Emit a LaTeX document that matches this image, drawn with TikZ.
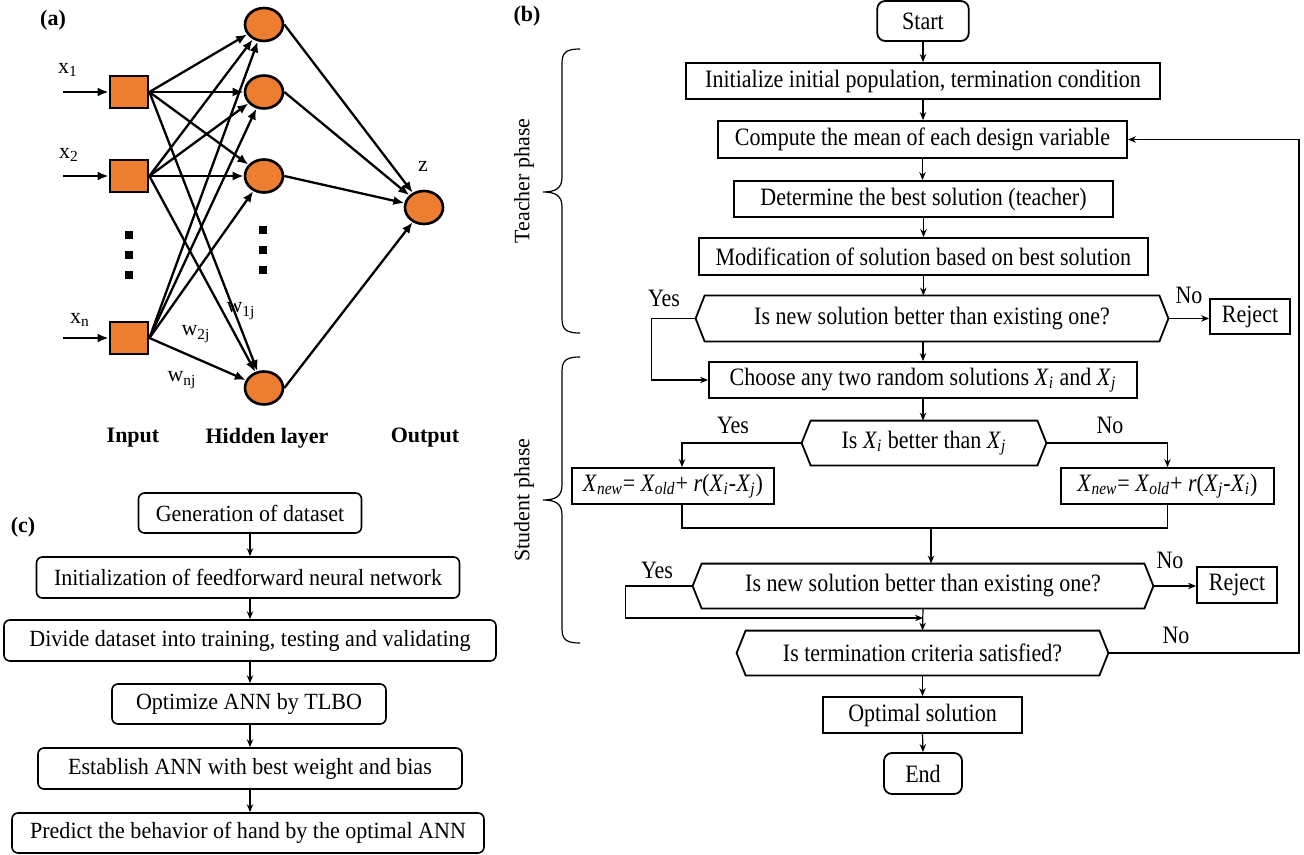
\documentclass[tikz,border=0pt]{standalone}
\usepackage{fontspec}
\setmainfont{Liberation Serif}
\newfontfamily\bcondfont[FakeStretch=0.88]{Liberation Serif}
\newfontfamily\ccondfont[FakeStretch=0.95]{Liberation Serif}
\usetikzlibrary{arrows.meta,shapes.geometric,calc}
\definecolor{nnorange}{HTML}{ED7D31}
\newcommand{\hexdraw}[1]{\draw[line width=0.9pt] ([xshift=4.5pt]#1.north west) -- ([xshift=-4.5pt]#1.north east) -- (#1.east) -- ([xshift=-4.5pt]#1.south east) -- ([xshift=4.5pt]#1.south west) -- (#1.west) -- cycle;}
\begin{document}
\begin{tikzpicture}[x=0.5pt,y=-0.5pt,
  every node/.style={font=\fontsize{11}{13}\selectfont, inner sep=0pt},
  sq/.style={draw, line width=1.4pt, fill=nnorange, minimum width=19pt, minimum height=16pt},
  neur/.style={ellipse, draw, line width=1.3pt, fill=nnorange, minimum width=19pt, minimum height=16.5pt},
  dotsq/.style={fill=black, minimum size=4pt},
  nnarrow/.style={line width=1.15pt, -{Latex[length=5.5pt,width=4.5pt]}},
  bbox/.style={draw, line width=0.9pt},
  rbox/.style={draw, line width=0.9pt, rounded corners=4pt},
  btext/.style={font=\bcondfont\fontsize{12.5}{14}\selectfont},
  cbox/.style={draw, line width=0.8pt, rounded corners=3pt, font=\ccondfont\fontsize{11.6}{13}\selectfont},
  flow/.style={line width=0.6pt, -{Stealth[length=4pt,width=3.2pt]}},
  plain/.style={line width=0.6pt},
  bold/.style={font=\fontsize{11}{13}\selectfont\bfseries},
]
\useasboundingbox (0,0) rectangle (1304,855);

% ---------------- Panel (a) ----------------
\node[bold] (la) at (53,20) {(a)};
\node[sq] (i1) at (129,92) {};
\node[sq] (i2) at (129,176) {};
\node[sq] (in) at (129,338) {};
\node[neur] (h1) at (264,24.5) {};
\node[neur] (h2) at (264,92) {};
\node[neur] (h3) at (264,176) {};
\node[neur] (h4) at (264,388) {};
\node[neur] (o) at (424,207.5) {};
\coordinate (s1) at (63,92);
\coordinate (s2) at (63,176);
\coordinate (sn) at (63,338);
\draw[nnarrow] (s1) -- (i1);
\draw[nnarrow] (s2) -- (i2);
\draw[nnarrow] (sn) -- (in);
\foreach \i in {i1,i2,in}{
  \foreach \h in {h1,h2,h3,h4}{
    \draw[nnarrow] (\i.east) -- (\h);
  }
}
\foreach \h in {h1,h2,h3,h4}{
  \draw[nnarrow] (\h.east) -- (o);
}
\node[dotsq] (da1) at (129,235) {};
\node[dotsq] (da2) at (129,255) {};
\node[dotsq] (da3) at (129,275) {};
\node[dotsq] (db1) at (263,230) {};
\node[dotsq] (db2) at (263,250) {};
\node[dotsq] (db3) at (263,270) {};
\node (lx1) at (68,70) {x\textsubscript{1}};
\node (lx2) at (69,155) {x\textsubscript{2}};
\node (lxn) at (80,320) {x\textsubscript{n}};
\node (lz) at (423,166) {z};
\node (lw1) at (241,311) {w\textsubscript{1j}};
\node (lw2) at (196,334) {w\textsubscript{2j}};
\node (lwn) at (182,380) {w\textsubscript{nj}};
\node[bold] (tin) at (133,438) {Input};
\node[bold] (thl) at (267,438) {Hidden layer};
\node[bold] (tout) at (425,438) {Output};

% ---------------- Panel (b) ----------------
\node[bold] (lb) at (527,16) {(b)};
\begin{scope}[every node/.append style={btext}]
\node[rbox, minimum width=45.75pt, minimum height=20pt] (start) at (923,21) {Start};
\node[bbox, minimum width=236.7pt, minimum height=18pt] (init) at (923,81) {Initialize initial population, termination condition};
\node[bbox, minimum width=204.5pt, minimum height=18.5pt] (comp) at (922.5,139.5) {Compute the mean of each design variable};
\node[bbox, minimum width=189.5pt, minimum height=18pt] (det) at (923.5,199) {Determine the best solution (teacher)};
\node[bbox, minimum width=224.7pt, minimum height=18.5pt] (modi) at (923.3,256.5) {Modification of solution based on best solution};
\node[minimum width=236pt, minimum height=22.5pt] (d1) at (932,318.5) {Is new solution better than existing one?};
\hexdraw{d1}
\node[bbox, minimum width=40pt, minimum height=17.5pt] (rej1) at (1250,316.5) {Reject};
\node[bbox, minimum width=214pt, minimum height=18pt] (choose) at (923,380) {Choose any two random solutions \textit{X}\textsubscript{\textit{i}} and \textit{X}\textsubscript{\textit{j}}};
\node[minimum width=122pt, minimum height=22pt] (d2) at (924,443) {Is \textit{X}\textsubscript{\textit{i}} better than \textit{X}\textsubscript{\textit{j}}};
\hexdraw{d2}
\node[bbox, minimum width=101pt, minimum height=18pt] (lbox) at (673,486) {\textit{X}\textsubscript{\textit{new}}= \textit{X}\textsubscript{\textit{old}}+ \textit{r}(\textit{X}\textsubscript{\textit{i}}-\textit{X}\textsubscript{\textit{j}})};
\node[bbox, minimum width=106.5pt, minimum height=18pt] (rbx) at (1167.5,486) {\textit{X}\textsubscript{\textit{new}}= \textit{X}\textsubscript{\textit{old}}+ \textit{r}(\textit{X}\textsubscript{\textit{j}}-\textit{X}\textsubscript{\textit{i}})};
\node[minimum width=230pt, minimum height=22pt] (d3) at (923,586) {Is new solution better than existing one?};
\hexdraw{d3}
\node[bbox, minimum width=40pt, minimum height=18pt] (rej2) at (1237,585) {Reject};
\node[minimum width=185.5pt, minimum height=22pt] (d4) at (922.5,653) {Is termination criteria satisfied?};
\hexdraw{d4}
\node[bbox, minimum width=99.5pt, minimum height=18pt] (opt) at (922.5,715) {Optimal solution};
\node[rbox, minimum width=39pt, minimum height=20.5pt] (endn) at (923,773.5) {End};

\node (yes1) at (664,298) {Yes};
\node (no1) at (1189,295) {No};
\node (yes2) at (733,425) {Yes};
\node (no2) at (1110,425) {No};
\node (yes3) at (657,570) {Yes};
\node (no3) at (1170,560) {No};
\node (no4) at (1176,635) {No};
\end{scope}

\draw[flow] (start.south) -- (start.south |- init.north);
\draw[flow] (init.south) -- (init.south |- comp.north);
\draw[flow] (comp.south) -- (comp.south |- det.north);
\draw[flow] (det.south) -- (det.south |- modi.north);
\draw[flow] (modi.south) -- (modi.south |- d1.north);
\draw[flow] (d1.east) -- (d1.east -| rej1.west);
\draw[flow] (choose.north |- d1.south) -- (choose.north);
\draw[flow] (d1.west) -- ++(-44,0) |- (choose.west);
\draw[flow] (choose.south) -- (choose.south |- d2.north);
\coordinate (ly) at (682,486);
\draw[flow] (d2.west) -| (ly |- lbox.north);
\draw[flow] (d2.east) -| (rbx.north);
\coordinate (m) at (931,528);
\draw[plain] (ly |- lbox.south) |- (m) -| (rbx.south);
\draw[flow] (m) -- (m |- d3.north);
\draw[flow] (d3.east) -- (d3.east -| rej2.west);
\coordinate (y3) at (923,618);
\draw[flow] (d3.west) -- ++(-67,0) |- (y3);
\draw[flow] (d3.south) -- (d4.north);
\coordinate (fb) at (1299,400);
\draw[flow] (d4.east) -| (fb) |- (comp.east);
\draw[flow] (d4.south) -- (opt.north);
\draw[flow] (opt.south) -- (endn.north);

% braces
\draw[plain] (580,49) .. controls (567,49) and (562,52) .. (562,63) -- (562,177) .. controls (562,188) and (556,192) .. (543,192) .. controls (556,192) and (562,196) .. (562,207) -- (562,319) .. controls (562,330) and (567,333) .. (580,333);
\draw[plain] (580,357) .. controls (567,357) and (562,360) .. (562,371) -- (562,485) .. controls (562,496) and (556,500) .. (543,500) .. controls (556,500) and (562,504) .. (562,515) -- (562,629) .. controls (562,640) and (567,643) .. (580,643);
\node[rotate=90] (tph) at (524,181) {Teacher phase};
\node[rotate=90] (sph) at (524,500) {Student phase};

% ---------------- Panel (c) ----------------
\node[bold] (lc) at (23,527) {(c)};
\node[cbox, minimum width=111.5pt, minimum height=20pt] (c1) at (250,513) {Generation of dataset};
\node[cbox, minimum width=211.5pt, minimum height=20.5pt] (c2) at (248,577.5) {Initialization of feedforward neural network};
\node[cbox, minimum width=246pt, minimum height=20.5pt] (c3) at (250,640.5) {Divide dataset into training, testing and validating};
\node[cbox, minimum width=137pt, minimum height=20pt] (c4) at (249,704) {Optimize ANN by TLBO};
\node[cbox, minimum width=212pt, minimum height=20.5pt] (c5) at (250,768.5) {Establish ANN with best weight and bias};
\node[cbox, minimum width=236pt, minimum height=20pt] (c6) at (248,833) {Predict the behavior of hand by the optimal ANN};
\coordinate (cx) at (250,0);
\draw[flow] (cx |- c1.south) -- (cx |- c2.north);
\draw[flow] (cx |- c2.south) -- (cx |- c3.north);
\draw[flow] (cx |- c3.south) -- (cx |- c4.north);
\draw[flow] (cx |- c4.south) -- (cx |- c5.north);
\draw[flow] (cx |- c5.south) -- (cx |- c6.north);
\end{tikzpicture}
\end{document}
